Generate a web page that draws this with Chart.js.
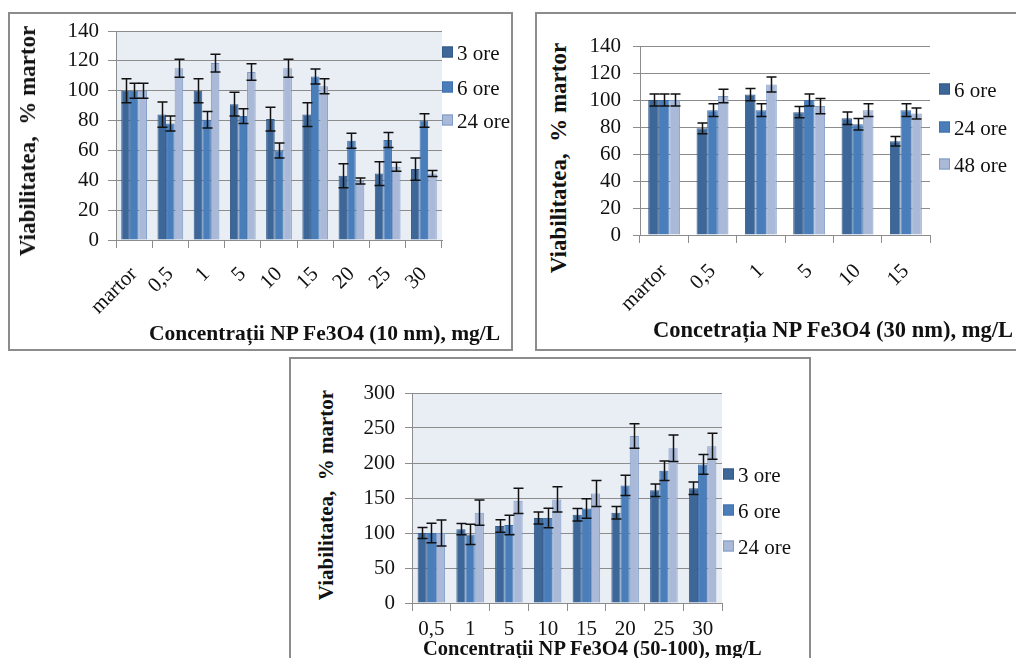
<!DOCTYPE html>
<html>
<head>
<meta charset="utf-8">
<script src="https://cdn.jsdelivr.net/npm/chart.js@4/dist/chart.umd.min.js"></script>
<style>
  body { margin: 0; width: 1016px; height: 658px; overflow: hidden; background: #fff; position: relative; font-family: 'Liberation Serif', serif; color: #111; }
  .frame { position: absolute; border: 2px solid #8c8c8c; box-sizing: border-box; }
  canvas { position: absolute; }
  .ytitle { position: absolute; font-weight: bold; white-space: pre; transform: translate(-50%, -50%) rotate(-90deg); }
  .xtitle { position: absolute; font-weight: bold; white-space: pre; transform: translateY(-50%); }
  .leg { position: absolute; font-size: 21px; white-space: nowrap; transform: translateY(-50%); line-height: 1; }
  .leg i { display: inline-block; width: 11px; height: 11px; margin-right: 4px; vertical-align: 2px; box-sizing: border-box; border: 1px solid; }
</style>
</head>
<body>
<div class="frame" style="left:8px; top:12px; width:505px; height:339px;"></div>
<div class="frame" style="left:535px; top:12px; width:500px; height:339px;"></div>
<div class="frame" style="left:289px; top:357px; width:522px; height:320px;"></div>

<canvas id="c10" width="422" height="320" style="left:40px; top:5px;"></canvas>
<canvas id="c30" width="370" height="300" style="left:580px; top:20px;"></canvas>
<canvas id="c50" width="387" height="271" style="left:350px; top:367px;"></canvas>

<div class="ytitle" style="left:28px; top:141px; font-size:23px;">Viabilitatea,  % martor</div>
<div class="xtitle" style="left:149px; top:333px; font-size:21.5px;">Concentrații NP Fe3O4 (10 nm), mg/L</div>
<div class="ytitle" style="left:559px; top:158px; font-size:23px;">Viabilitatea,  % martor</div>
<div class="xtitle" style="left:653px; top:330px; font-size:22.5px;">Concetrația NP Fe3O4 (30 nm), mg/L</div>
<div class="ytitle" style="left:326px; top:495px; font-size:21px;">Viabilitatea,  % martor</div>
<div class="xtitle" style="left:423px; top:648px; font-size:20.5px;">Concentrații NP Fe3O4 (50-100), mg/L</div>

<div id="leg10"></div>
<div id="leg30"></div>
<div id="leg50"></div>

<script>
// Colours of the three series (dark, medium, light blue)
const fillColors = ['#3D6799', '#4A7EBB', '#A9B9D7'];
const edgeColors = ['#335A88', '#3E70AC', '#7F9CC9'];

// Fe3O4 10 nm
const labels10 = ['martor', '0,5', '1', '5', '10', '15', '20', '25', '30'];
const series10 = ['3 ore', '6 ore', '24 ore'];
const ore3_10 = [100, 84, 100, 91, 81, 84, 43, 44.5, 47.5];
const ore6_10 = [100, 78, 80.5, 83, 60, 109.5, 66.5, 67, 80];
const ore24_10 = [100, 115, 118.5, 112.5, 115, 103, 39.5, 49, 44.5];
const err3_10 = [8, 8.5, 8, 8, 8, 8, 8, 8, 7.5];
const err6_10 = [5, 5, 5.5, 5, 5, 5, 5, 5, 4.5];
const err24_10 = [5, 6, 6, 5.5, 6, 5, 2, 3, 2];
const ticks10 = [0, 20, 40, 60, 80, 100, 120, 140];

// Fe3O4 30 nm
const labels30 = ['martor', '0,5', '1', '5', '10', '15'];
const series30 = ['6 ore', '24 ore', '48 ore'];
const ore6_30 = [100, 79, 104, 91, 86.5, 69.5];
const ore24_30 = [100, 92.5, 92.5, 100, 82, 92.5];
const ore48_30 = [100, 103, 111.5, 95.5, 92.5, 90];
const err6_30 = [4.5, 4, 4.5, 4.2, 4.7, 3.5];
const err24_30 = [4.5, 4.7, 4.7, 4.5, 4.3, 4.7];
const err48_30 = [4.5, 5, 5.6, 5.6, 4.7, 4];
const ticks30 = [0, 20, 40, 60, 80, 100, 120, 140];

// Fe3O4 50-100 nm
const labels50 = ['0,5', '1', '5', '10', '15', '20', '25', '30'];
const series50 = ['3 ore', '6 ore', '24 ore'];
const ore3_50 = [100, 105.5, 110, 121.5, 126, 129, 161, 164];
const ore6_50 = [100, 98, 111.5, 121.5, 135, 168, 189, 198];
const ore24_50 = [100, 129, 146, 148, 156.5, 238.5, 221, 224];
const err3_50 = [8, 8, 9, 8.5, 9, 9, 9, 9];
const err6_50 = [14, 14.5, 14, 14, 14, 14.5, 14, 14];
const err24_50 = [18.5, 18, 18, 18, 18.5, 17.5, 19, 18.5];
const ticks50 = [0, 50, 100, 150, 200, 250, 300];

Chart.defaults.font.family = "'Liberation Serif', serif";
Chart.defaults.color = '#111';

// Fill the plot area
const plotBackground = {
    id: 'plotBackground',
    beforeDraw(chart, args, opts) {
        if (!opts.color) return;
        const a = chart.chartArea;
        chart.ctx.save();
        chart.ctx.fillStyle = opts.color;
        chart.ctx.fillRect(a.left, a.top, a.right - a.left, a.bottom - a.top);
        chart.ctx.restore();
    }
};

// Draw +/- error bars on top of each bar
const errorBars = {
    id: 'errorBars',
    afterDatasetsDraw(chart) {
        const ctx = chart.ctx;
        const y = chart.scales.y;
        ctx.save();
        ctx.strokeStyle = '#111';
        ctx.lineWidth = 1.5;
        chart.data.datasets.forEach((ds, i) => {
            const meta = chart.getDatasetMeta(i);
            meta.data.forEach((bar, j) => {
                const v = ds.data[j];
                const e = ds.errors[j];
                const top = y.getPixelForValue(v + e);
                const bot = y.getPixelForValue(v - e);
                const x = Math.round(bar.x) + 0.5;
                ctx.beginPath();
                ctx.moveTo(x, top); ctx.lineTo(x, bot);
                ctx.moveTo(x - 5, top); ctx.lineTo(x + 5, top);
                ctx.moveTo(x - 5, bot); ctx.lineTo(x + 5, bot);
                ctx.stroke();
            });
        });
        ctx.restore();
    }
};

function makeDatasets(names, values, errors) {
    return names.map((n, i) => ({
        label: n,
        data: values[i],
        errors: errors[i],
        backgroundColor: fillColors[i],
        borderColor: edgeColors[i],
        borderWidth: 1
    }));
}

// padTop is larger than the half label height + tick padding so the plot top is fixed
function makeChart(id, labels, datasets, opt) {
    return new Chart(document.getElementById(id), {
        type: 'bar',
        data: { labels: labels, datasets: datasets },
        options: {
            responsive: false,
            animation: false,
            devicePixelRatio: 1,
            layout: { padding: { top: 26, right: opt.padRight, left: 0, bottom: 0 } },
            datasets: { bar: { categoryPercentage: opt.catPct, barPercentage: 1 } },
            plugins: {
                legend: { display: false },
                tooltip: { enabled: false },
                plotBackground: { color: opt.bg }
            },
            scales: {
                x: {
                    grid: { display: true, drawOnChartArea: false, tickLength: 8, color: '#8c8c8c', offset: true },
                    border: { display: true, color: '#8c8c8c', width: 1 },
                    ticks: {
                        font: { size: 21 },
                        minRotation: opt.rotation,
                        maxRotation: opt.rotation,
                        padding: opt.xPad,
                        autoSkip: false
                    },
                    afterFit(scale) { scale.height = opt.xHeight; }
                },
                y: {
                    min: opt.ticks[0],
                    max: opt.ticks[opt.ticks.length - 1],
                    afterBuildTicks(scale) { scale.ticks = opt.ticks.map(v => ({ value: v })); },
                    grid: { color: '#8c8c8c', tickLength: opt.tickLen, lineWidth: 1 },
                    border: { display: true, color: '#8c8c8c', width: 1 },
                    ticks: { font: { size: 21 }, padding: opt.yPad, autoSkip: false },
                    afterFit(scale) { scale.width = opt.yWidth; }
                }
            }
        },
        plugins: [plotBackground, errorBars]
    });
}

makeChart('c10', labels10,
    makeDatasets(series10, [ore3_10, ore6_10, ore24_10], [err3_10, err6_10, err24_10]),
    { padRight: 20, catPct: 0.71, bg: '#E9EDF4', rotation: 45, xPad: 14, xHeight: 85,
      ticks: ticks10, tickLen: 8, yPad: 9, yWidth: 76 });

makeChart('c30', labels30,
    makeDatasets(series30, [ore6_30, ore24_30, ore48_30], [err6_30, err24_30, err48_30]),
    { padRight: 20, catPct: 0.66, bg: null, rotation: 45, xPad: 16, xHeight: 85,
      ticks: ticks30, tickLen: 7, yPad: 12, yWidth: 60 });

makeChart('c50', labels50,
    makeDatasets(series50, [ore3_50, ore6_50, ore24_50], [err3_50, err6_50, err24_50]),
    { padRight: 15, catPct: 0.71, bg: '#E9EDF4', rotation: 0, xPad: 6, xHeight: 35,
      ticks: ticks50, tickLen: 7, yPad: 10, yWidth: 62 });

// HTML legends
function makeLegend(id, names, left, tops) {
    const box = document.getElementById(id);
    names.forEach((n, i) => {
        const d = document.createElement('div');
        d.className = 'leg';
        d.style.left = left + 'px';
        d.style.top = tops[i] + 'px';
        d.innerHTML = '<i style="background:' + fillColors[i] + ';border-color:' + edgeColors[i] + '"></i>' + n;
        box.appendChild(d);
    });
}
makeLegend('leg10', series10, 442, [53, 88, 121]);
makeLegend('leg30', series30, 939, [90, 128, 165]);
makeLegend('leg50', series50, 723, [475, 511, 547]);
</script>
</body>
</html>
